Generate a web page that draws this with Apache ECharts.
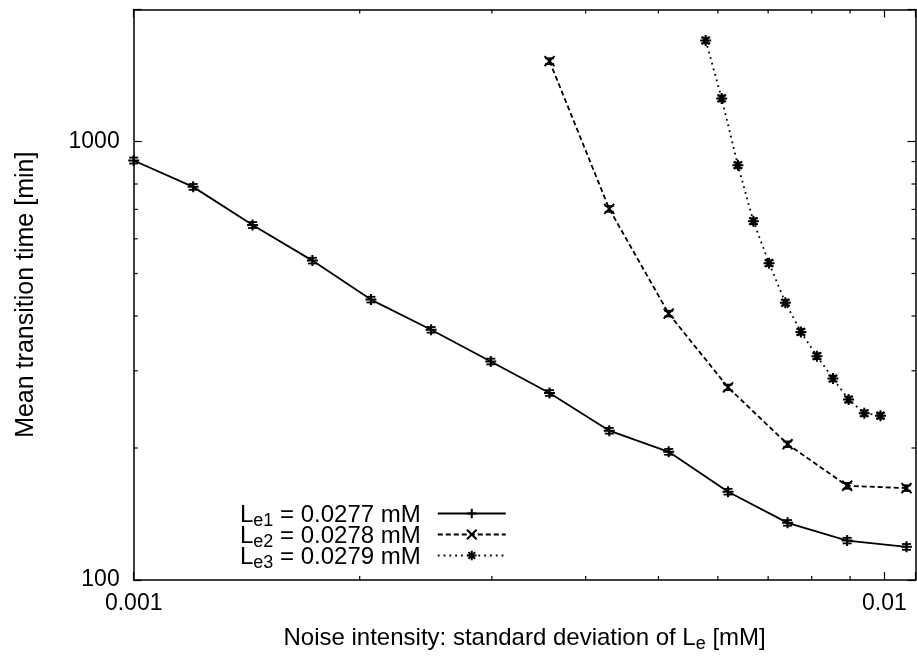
<!DOCTYPE html>
<html><head><meta charset="utf-8">
<script src="https://cdn.jsdelivr.net/npm/echarts@6/dist/echarts.min.js"></script>
<style>html,body{margin:0;padding:0;background:#fff}#c{width:917px;height:656px}</style>
</head><body><div id="c"></div>
<script>
// ---- data ----
const xs1 = [0.001, 0.0012, 0.00144, 0.00173, 0.00207, 0.00249, 0.00299, 0.00358, 0.0043, 0.00516, 0.00619, 0.00743, 0.00892, 0.0107];
const ys1 = [905, 788, 645, 535, 436, 372, 315, 267, 219, 196, 159, 135, 123, 119];
const err1 = [14, 12, 10, 8, 6.5, 5.5, 4.7, 4, 3.3, 3, 2.4, 2, 1.8, 1.8];
const xs2 = [0.00358, 0.0043, 0.00516, 0.00619, 0.00743, 0.00892, 0.0107];
const ys2 = [1525, 702, 405, 275, 204, 164, 162];
const err2 = [23, 10.5, 6, 4, 3, 2.5, 2.4];
const xs3 = [0.00578, 0.00607, 0.00638, 0.00669, 0.00702, 0.00738, 0.00774, 0.00813, 0.00854, 0.00896, 0.0094, 0.00988];
const ys3 = [1700, 1254, 883, 658, 528, 429, 368, 324, 288, 258, 240, 237];
const err3 = [25, 19, 13, 10, 8, 6.5, 5.5, 5, 4.3, 3.9, 3.6, 3.5];
const seriesNames = ['Le1', 'Le2', 'Le3'];
const legendSubs = ['e1', 'e2', 'e3'];
const legendVals = ['0.0277', '0.0278', '0.0279'];
const xMin = 0.001, xMax = 0.011, yMin = 100, yMax = 2000;
const xMinorTicks = [0.002, 0.003, 0.004, 0.005, 0.006, 0.007, 0.008, 0.009];
const yMinorTicks = [200, 300, 400, 500, 600, 700, 800, 900];
const xTitle = 'Noise intensity: standard deviation of L';
const xTitleSub = 'e';
const xTitleUnit = ' [mM]';
const yTitle = 'Mean transition time [min]';

const FONT = 'Liberation Sans, Arial, Helvetica, sans-serif';
const zip = (xs, ys) => xs.map((x, i) => [x, ys[i]]);
const errData = (xs, ys, es) => xs.map((x, i) => [x, ys[i], ys[i] - es[i], ys[i] + es[i]]);

const symPlus = 'path://M0,5L10,5M5,0L5,10';
const symCross = 'path://M0,0L10,10M10,0L0,10';
const symStar = 'path://M0,5L10,5M5,0L5,10M1.5,1.5L8.5,8.5M8.5,1.5L1.5,8.5';

function errRender(params, api) {
  const x = api.value(0);
  const p1 = api.coord([x, api.value(2)]);
  const p2 = api.coord([x, api.value(3)]);
  const st = { stroke: '#000', lineWidth: 1.8 };
  const w = 4.5;
  return { type: 'group', children: [
    { type: 'line', shape: { x1: p1[0], y1: p1[1], x2: p2[0], y2: p2[1] }, style: st },
    { type: 'line', shape: { x1: p1[0] - w, y1: p1[1], x2: p1[0] + w, y2: p1[1] }, style: st },
    { type: 'line', shape: { x1: p2[0] - w, y1: p2[1], x2: p2[0] + w, y2: p2[1] }, style: st }
  ]};
}

function tickRender(params, api) {
  const cs = params.coordSys;
  const kind = api.value(2);
  const st = { stroke: '#000', lineWidth: 1.2 };
  const L = 4;
  if (kind === 0) {
    const px = api.coord([api.value(0), yMin])[0];
    return { type: 'group', children: [
      { type: 'line', shape: { x1: px, y1: cs.y + cs.height, x2: px, y2: cs.y + cs.height - L }, style: st },
      { type: 'line', shape: { x1: px, y1: cs.y, x2: px, y2: cs.y + L }, style: st }
    ]};
  } else {
    const py = api.coord([xMin, api.value(1)])[1];
    return { type: 'group', children: [
      { type: 'line', shape: { x1: cs.x, y1: py, x2: cs.x + L, y2: py }, style: st },
      { type: 'line', shape: { x1: cs.x + cs.width, y1: py, x2: cs.x + cs.width - L, y2: py }, style: st }
    ]};
  }
}
const tickData = xMinorTicks.map(v => [v, yMin, 0]).concat(yMinorTicks.map(v => [xMin, v, 1]));

const decadeFmt = v => {
  const l = Math.log10(v);
  if (Math.abs(l - Math.round(l)) < 1e-6) return String(+v.toPrecision(3));
  return '';
};

const richM = { fontFamily: FONT, fontSize: 24, lineHeight: 21, padding: [6, 0, 6, 0], verticalAlign: 'top', color: '#000' };
const richS = { fontFamily: FONT, fontSize: 18, lineHeight: 18, padding: [15, 0, 0, 0], verticalAlign: 'top', color: '#000' };
const legM = { fontFamily: FONT, fontSize: 24, lineHeight: 21, padding: [0, 0, 12, 0], verticalAlign: 'top', color: '#000' };
const legS = { fontFamily: FONT, fontSize: 18, lineHeight: 18, padding: [9.3, 0, 0, 0], verticalAlign: 'top', color: '#000' };

const axLine = { show: true, lineStyle: { color: '#000', width: 1.5 } };
const axTick = { show: true, inside: true, length: 8, lineStyle: { color: '#000', width: 1.2 } };

const lineBase = (name, data, sym, size, dash) => ({
  name, type: 'line', data, symbol: sym, symbolSize: size, showSymbol: true,
  lineStyle: { color: '#000', width: 1.8, type: dash },
  itemStyle: { color: '#000', borderColor: '#000', borderWidth: 2 },
  emphasis: { disabled: true }, animation: false, z: 3
});

const chart = echarts.init(document.getElementById('c'), null, { renderer: 'canvas' });
chart.setOption({
  animation: false,
  backgroundColor: '#fff',
  grid: { left: 133.7, top: 9.5, right: 1.5, bottom: 76, containLabel: false, outerBoundsMode: 'none' },
  xAxis: [
    { type: 'log', logBase: 10, min: xMin, max: xMax, position: 'bottom',
      axisLine: axLine, axisTick: axTick, splitLine: { show: false }, minorTick: { show: false },
      axisLabel: { formatter: decadeFmt, margin: 12, color: '#000', fontFamily: FONT, fontSize: 23 },
      name: '{m|' + xTitle + '}{s|' + xTitleSub + '}{m|' + xTitleUnit + '}',
      nameLocation: 'middle', nameGap: 38.5,
      nameTextStyle: { rich: { m: richM, s: richS } } },
    { type: 'log', logBase: 10, min: xMin, max: xMax, position: 'top',
      axisLine: axLine, axisTick: axTick, splitLine: { show: false }, axisLabel: { show: false } }
  ],
  yAxis: [
    { type: 'log', logBase: 10, min: yMin, max: yMax, position: 'left',
      axisLine: axLine, axisTick: axTick, splitLine: { show: false },
      axisLabel: { formatter: decadeFmt, margin: 14, color: '#000', fontFamily: FONT, fontSize: 23 },
      name: yTitle, nameLocation: 'middle', nameGap: 95,
      nameTextStyle: { color: '#000', fontFamily: FONT, fontSize: 25 } },
    { type: 'log', logBase: 10, min: yMin, max: yMax, position: 'right',
      axisLine: axLine, axisTick: axTick, splitLine: { show: false }, axisLabel: { show: false } }
  ],
  legend: {
    data: seriesNames,
    orient: 'vertical', align: 'right', left: 240, top: 503, padding: 0, itemGap: -15,
    itemWidth: 68, itemHeight: 12, selectedMode: false,
    formatter: name => {
      const i = seriesNames.indexOf(name);
      return '{m|L}{s|' + legendSubs[i] + '}{m| = ' + legendVals[i] + ' mM}';
    },
    textStyle: { padding: [0, 12, 0, 0], rich: { m: legM, s: legS } }
  },
  series: [
    lineBase(seriesNames[0], zip(xs1, ys1), symPlus, 11, 'solid'),
    lineBase(seriesNames[1], zip(xs2, ys2), symCross, 10, [5, 3]),
    lineBase(seriesNames[2], zip(xs3, ys3), symStar, 11, [1.8, 4]),
    { type: 'custom', renderItem: errRender, data: errData(xs1, ys1, err1), z: 4, silent: true, animation: false },
    { type: 'custom', renderItem: errRender, data: errData(xs2, ys2, err2), z: 4, silent: true, animation: false },
    { type: 'custom', renderItem: errRender, data: errData(xs3, ys3, err3), z: 4, silent: true, animation: false },
    { type: 'custom', renderItem: tickRender, data: tickData, z: 5, silent: true, animation: false, clip: false }
  ]
});
</script></body></html>
